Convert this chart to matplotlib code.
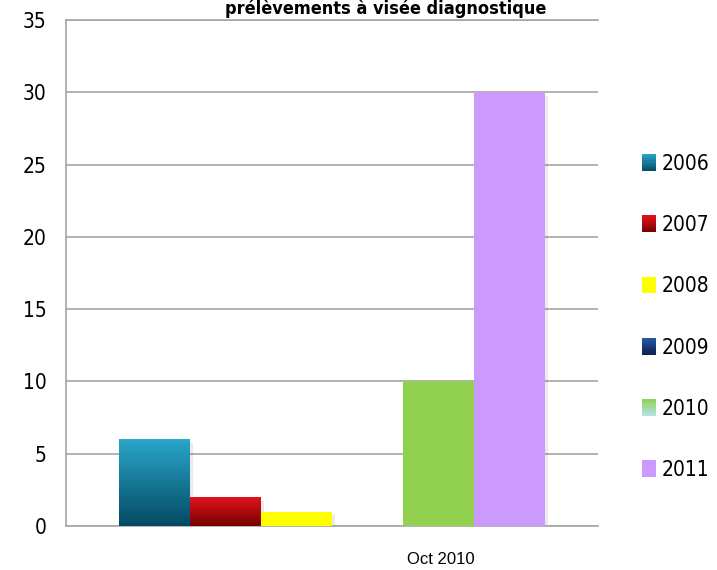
import matplotlib
matplotlib.use("Agg")
import matplotlib.pyplot as plt
from matplotlib.patches import Patch, Rectangle
import numpy as np

# data
category = "Oct 2010"
years = ["2006", "2007", "2008", "2009", "2010", "2011"]
counts = [6, 2, 1, 0, 10, 30]
title_text = "prélèvements à visée diagnostique"

# (top colour, bottom colour) per series; same colour twice means flat fill
bar_colors = [
    ("#2aa6c9", "#034a63"),
    ("#e3131c", "#760000"),
    ("#ffff00", "#ffff00"),
    ("#2a5aa8", "#0a1f50"),
    ("#92d050", "#92d050"),
    ("#cc99ff", "#cc99ff"),
]
legend_colors = [
    ("#2aa6c9", "#034a63"),
    ("#e3131c", "#760000"),
    ("#ffff00", "#ffff00"),
    ("#2a5aa8", "#0a1f50"),
    ("#92d050", "#b7e3ef"),
    ("#cc99ff", "#cc99ff"),
]

plt.rcParams["font.family"] = ["DejaVu Sans"]
plt.rcParams["font.stretch"] = "condensed"

fig = plt.figure(figsize=(7.17, 5.7), dpi=100)
ax = fig.add_axes([66 / 717, 44 / 570, 532 / 717, 506 / 570])


def hex_rgb(h):
    return np.array(matplotlib.colors.to_rgb(h))


n = len(years)
width = 0.8 / n
xs = [(i - (n - 1) / 2) * width for i in range(n)]

for x, v, (top, bot) in zip(xs, counts, bar_colors):
    if v <= 0:
        continue
    # soft drop shadow
    ax.bar(x + 0.006, v, width, bottom=-0.25, color="#000000", alpha=0.08,
           linewidth=0, zorder=2)
    bar = ax.bar(x, v, width, color=bot, linewidth=0, zorder=3)[0]
    if top != bot:
        t = np.linspace(0, 1, 64)[:, None]
        grad = (1 - t) * hex_rgb(top) + t * hex_rgb(bot)
        img = ax.imshow(grad[:, None, :].repeat(2, axis=1),
                        extent=[x - width / 2, x + width / 2, 0, v],
                        aspect="auto", origin="upper", zorder=4)
        img.set_clip_path(bar)

ax.set_xlim(-0.5, 0.5)
ax.set_ylim(0, 35)
ax.set_yticks(range(0, 36, 5))
# the category label sits to the right of the cluster centre
ax.set_xticks([0.205])
ax.set_xticklabels([category], fontfamily="Liberation Sans", fontstretch="normal",
                   fontsize=12)
ax.tick_params(axis="x", length=0, pad=19)
ax.tick_params(axis="y", length=0, pad=14, labelsize=15)
ax.yaxis.grid(True, color="#a6a6a6", linewidth=1.2)
ax.set_axisbelow(True)
ax.spines["right"].set_visible(False)
for side in ("left", "top", "bottom"):
    ax.spines[side].set_color("#a6a6a6")
    ax.spines[side].set_linewidth(1.2)

fig.text(386 / 717, 1 - 14 / 570, title_text, ha="center", va="baseline",
         fontsize=13, fontweight="bold")


class GradHandler:
    def __init__(self, top, bot):
        self.top, self.bot = top, bot

    def legend_artist(self, legend, orig_handle, fontsize, handlebox):
        x0, y0 = -handlebox.xdescent, -handlebox.ydescent
        w, h = handlebox.width, handlebox.height
        c1, c2 = hex_rgb(self.top), hex_rgb(self.bot)
        steps = 8
        r = None
        for k in range(steps):
            c = c1 + (c2 - c1) * (k + 0.5) / steps
            r = Rectangle((x0, y0 + h - (k + 1) * h / steps), w, h / steps,
                          facecolor=c, edgecolor="none",
                          transform=handlebox.get_transform())
            handlebox.add_artist(r)
        return r


handles = [Patch(label=y) for y in years]
handler_map = {h: GradHandler(*c) for h, c in zip(handles, legend_colors)}
fig.legend(handles=handles, handler_map=handler_map, loc="upper left",
           bbox_to_anchor=(623 / 717, 1 - 135 / 570), frameon=False,
           fontsize=15, labelspacing=1.98, handlelength=0.7, handleheight=0.85,
           handletextpad=0.25)

fig.savefig("out.png", dpi=100)
